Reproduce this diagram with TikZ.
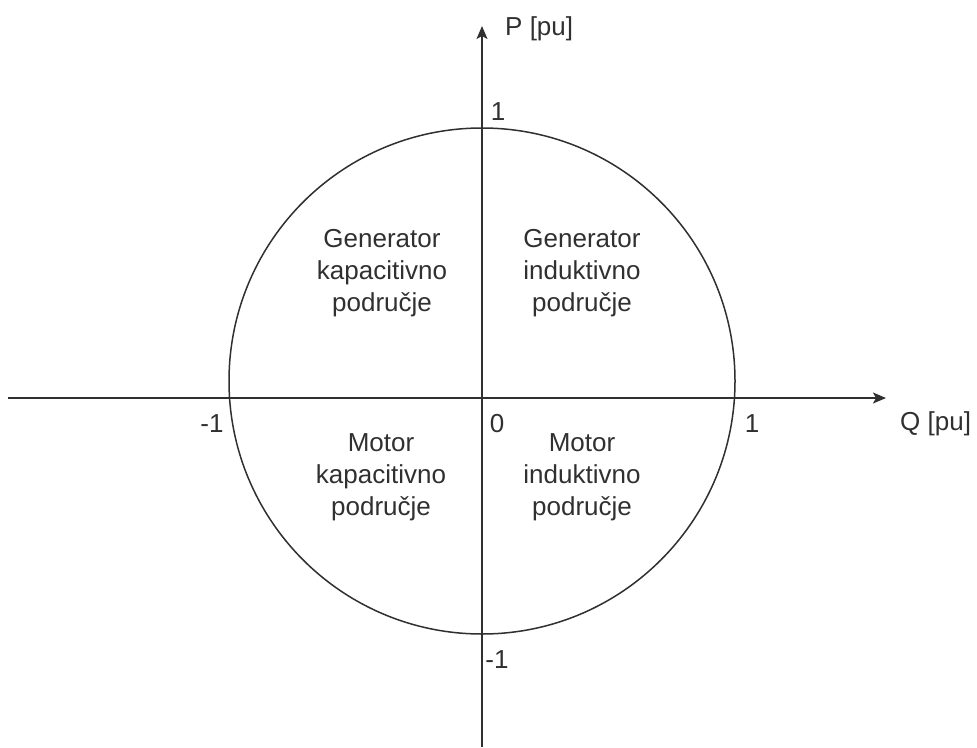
\documentclass[tikz,border=0pt]{standalone}
\usepackage{fontspec}
\setmainfont{Liberation Sans}
\usetikzlibrary{arrows.meta}

\definecolor{inkgray}{HTML}{303030}

\begin{document}
\begin{tikzpicture}[x=1pt, y=-1pt, >={Stealth[length=13pt, width=11pt, inset=3pt]},
  axis/.style={draw=inkgray, line width=1.6pt},
  lbl/.style={font=\fontsize{26}{32}\selectfont, text=inkgray, inner sep=0pt},
  region/.style={lbl, align=center}]
  \useasboundingbox (0,0) rectangle (977,747);
  % axes
  \coordinate (qstart) at (8,398);
  \coordinate (qend) at (886,398);
  \coordinate (pstart) at (482,747);
  \coordinate (pend) at (482,26);
  \coordinate (origin) at (482,381);
  \draw[axis, ->] (qstart) -- (qend);
  \draw[axis, ->] (pstart) -- (pend);
  % unit circle
  \draw[axis, line width=1.5pt] (origin) circle (253);
  % axis labels
  \node[lbl, anchor=base west] (plabel) at (505,35) {P [pu]};
  \node[lbl, anchor=base west] (qlabel) at (900,430) {Q [pu]};
  \node[lbl, anchor=base] (ptop) at (498,120) {1};
  \node[lbl, anchor=base] (pbot) at (497,668) {-1};
  \node[lbl, anchor=base] (qleft) at (212,432) {-1};
  \node[lbl, anchor=base] (qright) at (752,432) {1};
  \node[lbl, anchor=base] (zero) at (497,432) {0};
  % quadrants
  \node[region] (genkap) at (382,273) {Generator\\kapacitivno\\područje};
  \node[region] (genind) at (582,273) {Generator\\induktivno\\područje};
  \node[region] (motkap) at (381,477) {Motor\\kapacitivno\\područje};
  \node[region] (motind) at (582,477) {Motor\\induktivno\\područje};
\end{tikzpicture}
\end{document}
